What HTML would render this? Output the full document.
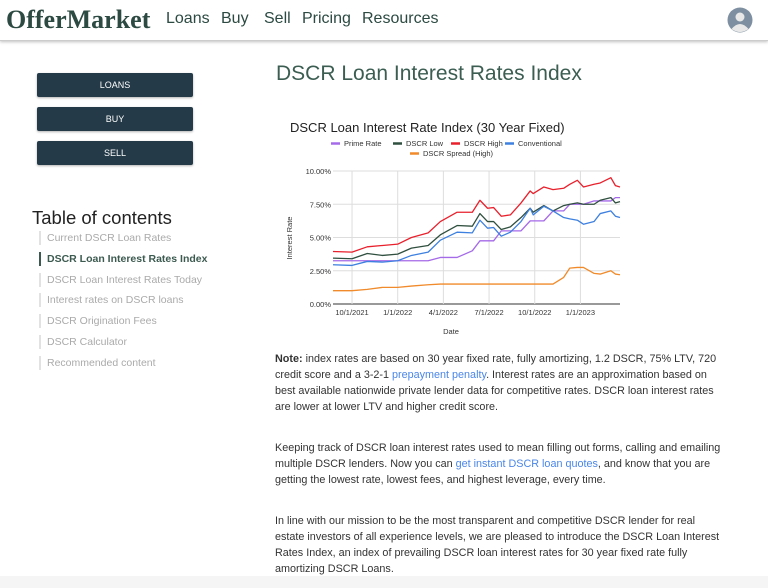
<!DOCTYPE html>
<html><head><meta charset="utf-8">
<style>
body{margin:0;width:768px;height:588px;overflow:hidden;background:#fff;font-family:"Liberation Sans",sans-serif;position:relative}
.a{position:absolute;white-space:nowrap}
.nav{font-size:16px;color:#2c4a42;top:10px}
.btn{position:absolute;left:37px;width:156px;height:24px;background:#243a48;border-radius:2px;color:#fff;font-size:9px;text-align:center;line-height:24px;box-shadow:0 1px 2px rgba(0,0,0,.3)}
.toc{position:absolute;left:39px;border-left:2px solid #e2e2e2;padding-left:6px;font-size:10.5px;color:#aaa;height:14px;line-height:14px}
.p{position:absolute;left:275px;font-size:10.8px;color:#333;white-space:nowrap;line-height:16px}
.p a{color:#4a86e8;text-decoration:none}
</style></head><body>
<div class="a" style="left:0;top:0;width:768px;height:40px;border-bottom:1px solid #ccc;box-shadow:0 1px 3px rgba(0,0,0,.25)"></div>
<div class="a" style="left:6px;top:5px;font-family:'Liberation Serif',serif;font-weight:bold;font-size:26px;color:#2c4a42">OfferMarket</div>
<div class="a nav" style="left:166px">Loans</div>
<div class="a nav" style="left:221px">Buy</div>
<div class="a nav" style="left:264px">Sell</div>
<div class="a nav" style="left:302px">Pricing</div>
<div class="a nav" style="left:362px">Resources</div>
<svg class="a" style="left:727px;top:7px" width="26" height="26"><circle cx="13" cy="13" r="12.5" fill="#7d8fa0"/><circle cx="13" cy="10" r="4.5" fill="#e8e8e8"/><path d="M4.5 22 Q13 12 21.5 22 Q13 28 4.5 22Z" fill="#e8e8e8"/></svg>

<div class="btn" style="top:73px">LOANS</div>
<div class="btn" style="top:107px">BUY</div>
<div class="btn" style="top:141px">SELL</div>

<div class="a" style="left:32px;top:207px;font-size:18.5px;color:#222">Table of contents</div>
<div class="toc" style="top:231px">Current DSCR Loan Rates</div>
<div class="toc" style="top:252px;border-color:#3c5a50;font-weight:bold;color:#3c5a50">DSCR Loan Interest Rates Index</div>
<div class="toc" style="top:273px">DSCR Loan Interest Rates Today</div>
<div class="toc" style="top:293px">Interest rates on DSCR loans</div>
<div class="toc" style="top:314px">DSCR Origination Fees</div>
<div class="toc" style="top:335px">DSCR Calculator</div>
<div class="toc" style="top:356px">Recommended content</div>

<div class="a" style="left:276px;top:62px;font-size:21px;color:#3b5d52">DSCR Loan Interest Rates Index</div>

<svg id="chart" class="a" style="left:0;top:0" width="768" height="588" font-family="Liberation Sans, sans-serif"></svg>

<div class="p" style="top:351px"><b>Note:</b> index rates are based on 30 year fixed rate, fully amortizing, 1.2 DSCR, 75% LTV, 720<br>credit score and a 3-2-1 <a>prepayment penalty</a>. Interest rates are an approximation based on<br>best available nationwide private lender data for competitive rates. DSCR loan interest rates<br>are lower at lower LTV and higher credit score.</div>
<div class="p" style="top:440px">Keeping track of DSCR loan interest rates used to mean filling out forms, calling and emailing<br>multiple DSCR lenders. Now you can <a>get instant DSCR loan quotes</a>, and know that you are<br>getting the lowest rate, lowest fees, and highest leverage, every time.</div>
<div class="p" style="top:513px">In line with our mission to be the most transparent and competitive DSCR lender for real<br>estate investors of all experience levels, we are pleased to introduce the DSCR Loan Interest<br>Rates Index, an index of prevailing DSCR loan interest rates for 30 year fixed rate fully<br>amortizing DSCR Loans.</div>
<div class="a" style="left:0;top:576px;width:768px;height:12px;background:#f5f5f5"></div>

<script>
// months since 10/1/2021
const months=[-1.25,0,1,2,3,3.9,5,5.8,6.9,7.9,8.4,8.9,9.3,9.8,10.4,11.1,11.7,11.9,12.6,13.2,13.9,14.3,14.8,15.2,15.9,16.3,17,17.3,17.6];
const primeRate=[3.25,3.25,3.25,3.25,3.25,3.25,3.25,3.5,3.5,4.0,4.75,4.75,4.75,5.5,5.5,5.5,6.25,6.25,6.25,7.0,7.0,7.5,7.5,7.5,7.75,7.75,7.75,8.0,8.0];
const dscrLow=[3.45,3.4,3.8,3.65,3.75,4.2,4.4,5.2,5.9,5.85,6.8,6.2,6.2,5.6,5.8,6.5,7.2,6.9,7.4,7.0,7.4,7.5,7.6,7.5,7.5,7.8,8.0,7.6,7.7];
const dscrHigh=[3.95,3.9,4.3,4.4,4.5,5.0,5.35,6.2,6.9,6.9,7.8,7.2,7.25,6.6,6.7,7.6,8.5,8.3,8.8,8.6,8.7,9.0,9.3,8.8,9.0,9.1,9.5,8.9,8.8];
const conventional=[2.95,2.9,3.2,3.15,3.25,3.65,3.9,4.8,5.4,5.35,6.3,5.7,5.75,5.1,5.4,6.2,7.2,6.7,7.35,7.0,6.5,6.4,6.3,6.0,6.2,6.8,7.0,6.6,6.5];
const dscrSpread=[1.0,1.0,1.1,1.25,1.25,1.35,1.45,1.5,1.5,1.5,1.5,1.5,1.5,1.5,1.5,1.5,1.5,1.5,1.5,1.5,2.0,2.7,2.75,2.75,2.3,2.25,2.5,2.25,2.2];
const yTicks=[0,2.5,5,7.5,10];
const yTickLabels=["0.00%","2.50%","5.00%","7.50%","10.00%"];
const xTicks=[0,3,6,9,12,15];
const xTickLabels=["10/1/2021","1/1/2022","4/1/2022","7/1/2022","10/1/2022","1/1/2023"];
const seriesNames=["Prime Rate","DSCR Low","DSCR High","Conventional","DSCR Spread (High)"];
const seriesColors=["#a56ae8","#2f4f3f","#e8202c","#3d80e0","#f08a2a"];

const svg=document.getElementById('chart');const NS='http://www.w3.org/2000/svg';
const L=333,R=620,T=171,B=304;
const x=m=>L+(m+1.25)/(17.6+1.25)*(R-L);
const y=v=>B-v/10*(B-T);
function mk(t,a,txt){const e=document.createElementNS(NS,t);for(const k in a)e.setAttribute(k,a[k]);if(txt!=null)e.textContent=txt;svg.appendChild(e);return e;}
let e;
e=mk('text',{x:290,y:132,'font-size':13,fill:'#222'},'DSCR Loan Interest Rate Index (30 Year Fixed)');


yTicks.forEach((v,i)=>{
 e=mk('line',{x1:L,x2:R,y1:y(v),y2:y(v),stroke:i==0?'#333':'#ddd','stroke-width':1});
 
 
 e=mk('text',{x:L-2,y:y(v)+3,'font-size':7.5,'text-anchor':'end',fill:'#333'},yTickLabels[i]);
 
 
});
xTicks.forEach((m,i)=>{
 e=mk('line',{x1:x(m),x2:x(m),y1:T,y2:B,stroke:'#ddd','stroke-width':1});
 
 
 e=mk('text',{x:x(m),y:B+11,'font-size':7.5,'text-anchor':'middle',fill:'#333'},xTickLabels[i]);
 
 
});
e=mk('text',{x:451,y:334,'font-size':7.5,'text-anchor':'middle',fill:'#333'},'Date');


e=mk('text',{x:0,y:0,'font-size':7.5,'text-anchor':'middle',fill:'#333',transform:'translate(292,238) rotate(-90)'},'Interest Rate');


const all=[primeRate,dscrLow,dscrHigh,conventional,dscrSpread];
const slugs=['prime-rate','dscr-low','dscr-high','conventional','dscr-spread'];
all.forEach((s,i)=>{
 e=mk('polyline',{points:s.map((v,j)=>x(months[j])+','+y(v)).join(' '),fill:'none',stroke:seriesColors[i],'stroke-width':1.3,'stroke-linejoin':'round'});
 
 
});
const legPos=[[331,146],[393,146],[451,146],[505,146],[410,156]];
seriesNames.forEach((n,i)=>{
 const [lx,ly]=legPos[i];
 e=mk('line',{x1:lx,x2:lx+9,y1:ly-2.5,y2:ly-2.5,stroke:seriesColors[i],'stroke-width':2.5});
 
 
 e=mk('text',{x:lx+13,y:ly,'font-size':7.5,fill:'#333'},n);
 
 
});
</script>
</body></html>
